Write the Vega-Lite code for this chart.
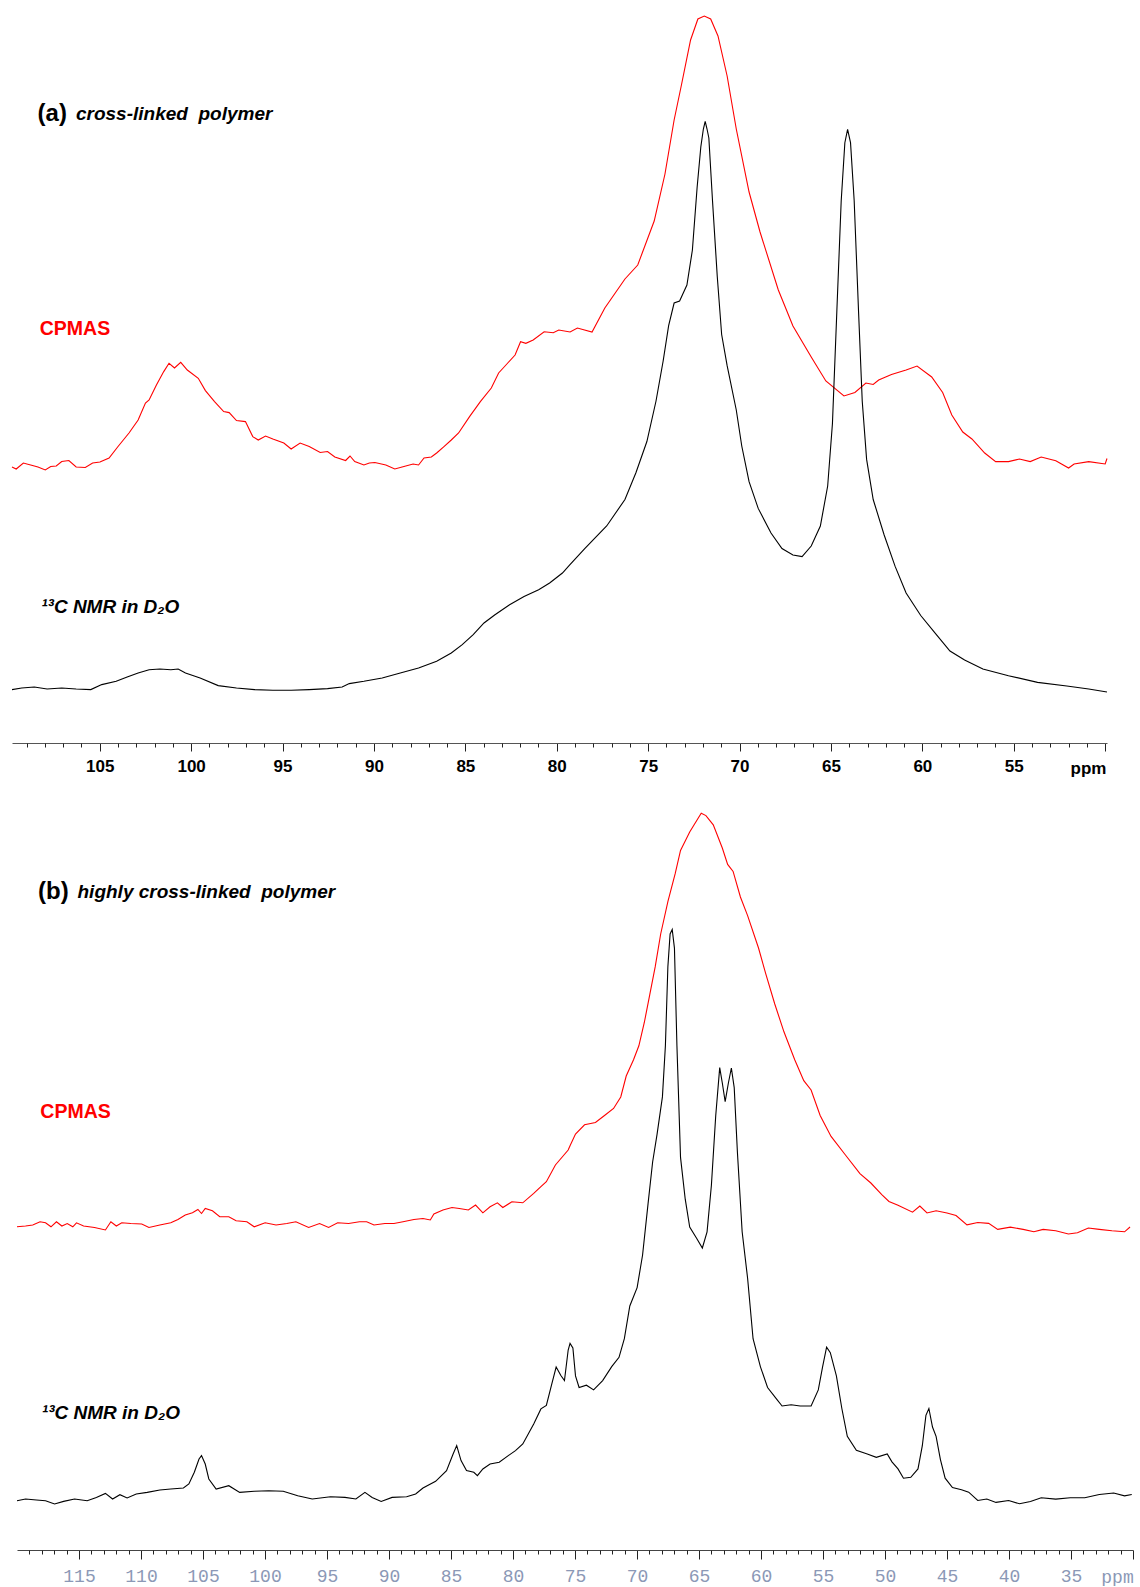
{
 "$schema": "https://vega.github.io/schema/vega-lite/v6.json",
 "background": "white",
 "padding": {"left": 9, "top": 0, "right": 0, "bottom": 0},
 "config": {"view": {"stroke": null}, "axis": {"grid": false}},
 "bounds": "flush",
 "spacing": 47,
 "datasets": {
  "labels": [
   {"panel":"a","role":"tag","ppm":108.4,"i":628.6,"t":"(a)"},
   {"panel":"a","role":"title","ppm":106.3,"i":628.6,"t":"cross-linked\u00a0 polymer"},
   {"panel":"a","role":"cpmas","ppm":108.28,"i":414,"t":"CPMAS"},
   {"panel":"a","role":"nmr","ppm":108.2,"i":136,"t":"¹³C NMR in D₂O"},
   {"panel":"b","role":"tag","ppm":118.3,"i":658.4,"t":"(b)"},
   {"panel":"b","role":"title","ppm":115.12,"i":658.4,"t":"highly cross-linked\u00a0 polymer"},
   {"panel":"b","role":"cpmas","ppm":118.12,"i":437.7,"t":"CPMAS"},
   {"panel":"b","role":"nmr","ppm":118.0,"i":137,"t":"¹³C NMR in D₂O"}
  ],
  "top": [
   {"s":"CPMAS","ppm":109.8,"i":276},{"s":"CPMAS","ppm":109.57,"i":274},{"s":"CPMAS","ppm":109.18,"i":280},{"s":"CPMAS","ppm":108.78,"i":278},{"s":"CPMAS","ppm":108.38,"i":276},{"s":"CPMAS","ppm":107.98,"i":273},{"s":"CPMAS","ppm":107.68,"i":276.5},{"s":"CPMAS","ppm":107.38,"i":277},{"s":"CPMAS","ppm":107.08,"i":281.5},{"s":"CPMAS","ppm":106.69,"i":282.5},{"s":"CPMAS","ppm":106.29,"i":276},{"s":"CPMAS","ppm":105.79,"i":275.5},{"s":"CPMAS","ppm":105.39,"i":280},{"s":"CPMAS","ppm":104.99,"i":281},{"s":"CPMAS","ppm":104.49,"i":285},{"s":"CPMAS","ppm":104.0,"i":296.5},{"s":"CPMAS","ppm":103.4,"i":310},{"s":"CPMAS","ppm":102.9,"i":323},{"s":"CPMAS","ppm":102.5,"i":340},{"s":"CPMAS","ppm":102.3,"i":343},{"s":"CPMAS","ppm":101.9,"i":358},{"s":"CPMAS","ppm":101.5,"i":371.4},{"s":"CPMAS","ppm":101.21,"i":379.7},{"s":"CPMAS","ppm":100.91,"i":375},{"s":"CPMAS","ppm":100.57,"i":380.7},{"s":"CPMAS","ppm":100.21,"i":373},{"s":"CPMAS","ppm":99.61,"i":364.7},{"s":"CPMAS","ppm":99.22,"i":352.4},{"s":"CPMAS","ppm":98.72,"i":341.4},{"s":"CPMAS","ppm":98.22,"i":331.4},{"s":"CPMAS","ppm":97.92,"i":330.4},{"s":"CPMAS","ppm":97.52,"i":322.4},{"s":"CPMAS","ppm":97.03,"i":321.4},{"s":"CPMAS","ppm":96.63,"i":306.4},{"s":"CPMAS","ppm":96.33,"i":303},{"s":"CPMAS","ppm":95.93,"i":307},{"s":"CPMAS","ppm":95.53,"i":304},{"s":"CPMAS","ppm":94.93,"i":300},{"s":"CPMAS","ppm":94.53,"i":294},{"s":"CPMAS","ppm":94.04,"i":300},{"s":"CPMAS","ppm":93.54,"i":296.4},{"s":"CPMAS","ppm":92.94,"i":290.5},{"s":"CPMAS","ppm":92.54,"i":291.5},{"s":"CPMAS","ppm":92.14,"i":286},{"s":"CPMAS","ppm":91.55,"i":282.5},{"s":"CPMAS","ppm":91.31,"i":287},{"s":"CPMAS","ppm":91.05,"i":281.5},{"s":"CPMAS","ppm":90.55,"i":278},{"s":"CPMAS","ppm":90.25,"i":280},{"s":"CPMAS","ppm":89.95,"i":280.5},{"s":"CPMAS","ppm":89.35,"i":278},{"s":"CPMAS","ppm":88.86,"i":274},{"s":"CPMAS","ppm":88.36,"i":276.5},{"s":"CPMAS","ppm":87.86,"i":279},{"s":"CPMAS","ppm":87.56,"i":278},{"s":"CPMAS","ppm":87.26,"i":285},{"s":"CPMAS","ppm":86.86,"i":286},{"s":"CPMAS","ppm":86.57,"i":290},{"s":"CPMAS","ppm":86.17,"i":296.4},{"s":"CPMAS","ppm":85.77,"i":303},{"s":"CPMAS","ppm":85.37,"i":310},{"s":"CPMAS","ppm":84.77,"i":326.4},{"s":"CPMAS","ppm":84.18,"i":341.4},{"s":"CPMAS","ppm":83.58,"i":355},{"s":"CPMAS","ppm":83.18,"i":370},{"s":"CPMAS","ppm":82.78,"i":378},{"s":"CPMAS","ppm":82.28,"i":388},{"s":"CPMAS","ppm":81.98,"i":401.3},{"s":"CPMAS","ppm":81.69,"i":399.7},{"s":"CPMAS","ppm":81.29,"i":403},{"s":"CPMAS","ppm":80.69,"i":411.3},{"s":"CPMAS","ppm":80.19,"i":410.3},{"s":"CPMAS","ppm":79.89,"i":413},{"s":"CPMAS","ppm":79.27,"i":411},{"s":"CPMAS","ppm":78.87,"i":415},{"s":"CPMAS","ppm":78.07,"i":411},{"s":"CPMAS","ppm":77.37,"i":435},{"s":"CPMAS","ppm":76.27,"i":464},{"s":"CPMAS","ppm":75.57,"i":478},{"s":"CPMAS","ppm":74.67,"i":522},{"s":"CPMAS","ppm":74.08,"i":569},{"s":"CPMAS","ppm":73.58,"i":623},{"s":"CPMAS","ppm":73.18,"i":658},{"s":"CPMAS","ppm":72.68,"i":703},{"s":"CPMAS","ppm":72.28,"i":724},{"s":"CPMAS","ppm":71.93,"i":727},{"s":"CPMAS","ppm":71.58,"i":724},{"s":"CPMAS","ppm":71.18,"i":707},{"s":"CPMAS","ppm":70.68,"i":667},{"s":"CPMAS","ppm":70.18,"i":614},{"s":"CPMAS","ppm":69.48,"i":551},{"s":"CPMAS","ppm":68.88,"i":511},{"s":"CPMAS","ppm":67.88,"i":453},{"s":"CPMAS","ppm":67.08,"i":417},{"s":"CPMAS","ppm":66.08,"i":386},{"s":"CPMAS","ppm":65.28,"i":362},{"s":"CPMAS","ppm":64.29,"i":347},{"s":"CPMAS","ppm":63.69,"i":350.5},{"s":"CPMAS","ppm":63.09,"i":360},{"s":"CPMAS","ppm":62.69,"i":358.5},{"s":"CPMAS","ppm":62.39,"i":363},{"s":"CPMAS","ppm":61.69,"i":368.4},{"s":"CPMAS","ppm":60.89,"i":373},{"s":"CPMAS","ppm":60.29,"i":377},{"s":"CPMAS","ppm":59.49,"i":366},{"s":"CPMAS","ppm":58.89,"i":350.5},{"s":"CPMAS","ppm":58.39,"i":328},{"s":"CPMAS","ppm":57.79,"i":311},{"s":"CPMAS","ppm":57.29,"i":304},{"s":"CPMAS","ppm":56.59,"i":290},{"s":"CPMAS","ppm":55.99,"i":281.4},{"s":"CPMAS","ppm":55.29,"i":281.4},{"s":"CPMAS","ppm":54.69,"i":284},{"s":"CPMAS","ppm":54.1,"i":281.4},{"s":"CPMAS","ppm":53.5,"i":286},{"s":"CPMAS","ppm":52.7,"i":282.3},{"s":"CPMAS","ppm":52.0,"i":275},{"s":"CPMAS","ppm":51.7,"i":279},{"s":"CPMAS","ppm":50.9,"i":281.4},{"s":"CPMAS","ppm":50.0,"i":279},{"s":"CPMAS","ppm":49.9,"i":284.5},
   {"s":"NMR","ppm":109.8,"i":53.4},{"s":"NMR","ppm":109.27,"i":55},{"s":"NMR","ppm":108.58,"i":56},{"s":"NMR","ppm":107.88,"i":54},{"s":"NMR","ppm":107.08,"i":55},{"s":"NMR","ppm":106.29,"i":54},{"s":"NMR","ppm":105.49,"i":53.4},{"s":"NMR","ppm":104.89,"i":58.4},{"s":"NMR","ppm":104.1,"i":61.7},{"s":"NMR","ppm":103.5,"i":66},{"s":"NMR","ppm":102.9,"i":70},{"s":"NMR","ppm":102.3,"i":73.3},{"s":"NMR","ppm":101.71,"i":74},{"s":"NMR","ppm":101.11,"i":73.3},{"s":"NMR","ppm":100.71,"i":74},{"s":"NMR","ppm":100.31,"i":70},{"s":"NMR","ppm":99.51,"i":65},{"s":"NMR","ppm":98.52,"i":57.4},{"s":"NMR","ppm":97.52,"i":55},{"s":"NMR","ppm":96.53,"i":53.4},{"s":"NMR","ppm":95.53,"i":52.7},{"s":"NMR","ppm":94.53,"i":52.7},{"s":"NMR","ppm":93.54,"i":53.4},{"s":"NMR","ppm":92.54,"i":54.4},{"s":"NMR","ppm":91.74,"i":56},{"s":"NMR","ppm":91.35,"i":59.4},{"s":"NMR","ppm":90.55,"i":61.7},{"s":"NMR","ppm":89.55,"i":65},{"s":"NMR","ppm":88.56,"i":70},{"s":"NMR","ppm":87.56,"i":75},{"s":"NMR","ppm":86.57,"i":81.7},{"s":"NMR","ppm":85.77,"i":90},{"s":"NMR","ppm":85.17,"i":98.3},{"s":"NMR","ppm":84.57,"i":108.3},{"s":"NMR","ppm":83.98,"i":120},{"s":"NMR","ppm":83.38,"i":128.3},{"s":"NMR","ppm":82.58,"i":138.3},{"s":"NMR","ppm":81.79,"i":146.6},{"s":"NMR","ppm":80.99,"i":153.3},{"s":"NMR","ppm":80.39,"i":160},{"s":"NMR","ppm":79.69,"i":170},{"s":"NMR","ppm":79.29,"i":178.2},{"s":"NMR","ppm":78.47,"i":194.4},{"s":"NMR","ppm":77.27,"i":217},{"s":"NMR","ppm":76.27,"i":243.5},{"s":"NMR","ppm":75.67,"i":270.2},{"s":"NMR","ppm":75.07,"i":301.5},{"s":"NMR","ppm":74.57,"i":342},{"s":"NMR","ppm":74.18,"i":382},{"s":"NMR","ppm":73.88,"i":417.4},{"s":"NMR","ppm":73.58,"i":440},{"s":"NMR","ppm":73.28,"i":442},{"s":"NMR","ppm":72.88,"i":458},{"s":"NMR","ppm":72.58,"i":493},{"s":"NMR","ppm":72.32,"i":556},{"s":"NMR","ppm":72.12,"i":596},{"s":"NMR","ppm":71.98,"i":614},{"s":"NMR","ppm":71.88,"i":621.7},{"s":"NMR","ppm":71.78,"i":614},{"s":"NMR","ppm":71.68,"i":605},{"s":"NMR","ppm":71.48,"i":542.3},{"s":"NMR","ppm":71.22,"i":466.5},{"s":"NMR","ppm":70.98,"i":408.5},{"s":"NMR","ppm":70.68,"i":377.3},{"s":"NMR","ppm":70.18,"i":333},{"s":"NMR","ppm":69.88,"i":297},{"s":"NMR","ppm":69.48,"i":261.3},{"s":"NMR","ppm":68.98,"i":234.6},{"s":"NMR","ppm":68.28,"i":210},{"s":"NMR","ppm":67.68,"i":194.4},{"s":"NMR","ppm":67.08,"i":188},{"s":"NMR","ppm":66.58,"i":186.4},{"s":"NMR","ppm":66.08,"i":197},{"s":"NMR","ppm":65.58,"i":217},{"s":"NMR","ppm":65.18,"i":257},{"s":"NMR","ppm":64.92,"i":319.3},{"s":"NMR","ppm":64.68,"i":431},{"s":"NMR","ppm":64.44,"i":542.3},{"s":"NMR","ppm":64.24,"i":600.3},{"s":"NMR","ppm":64.09,"i":613.7},{"s":"NMR","ppm":63.93,"i":600.3},{"s":"NMR","ppm":63.73,"i":542.3},{"s":"NMR","ppm":63.49,"i":431},{"s":"NMR","ppm":63.29,"i":342},{"s":"NMR","ppm":63.05,"i":283.6},{"s":"NMR","ppm":62.69,"i":243.5},{"s":"NMR","ppm":62.09,"i":208},{"s":"NMR","ppm":61.49,"i":176.6},{"s":"NMR","ppm":60.89,"i":150},{"s":"NMR","ppm":60.09,"i":127.5},{"s":"NMR","ppm":59.29,"i":109.7},{"s":"NMR","ppm":58.49,"i":92},{"s":"NMR","ppm":57.69,"i":83},{"s":"NMR","ppm":56.69,"i":74},{"s":"NMR","ppm":55.29,"i":67.3},{"s":"NMR","ppm":53.7,"i":60.6},{"s":"NMR","ppm":52.1,"i":57},{"s":"NMR","ppm":50.9,"i":54},{"s":"NMR","ppm":49.9,"i":51}
  ],
  "bottom": [
   {"s":"CPMAS","ppm":120.0,"i":323.2},{"s":"CPMAS","ppm":119.31,"i":324},{"s":"CPMAS","ppm":118.73,"i":325},{"s":"CPMAS","ppm":118.14,"i":328.2},{"s":"CPMAS","ppm":117.7,"i":327.2},{"s":"CPMAS","ppm":117.26,"i":323.2},{"s":"CPMAS","ppm":116.82,"i":328.2},{"s":"CPMAS","ppm":116.38,"i":324},{"s":"CPMAS","ppm":115.95,"i":326.5},{"s":"CPMAS","ppm":115.5,"i":323.2},{"s":"CPMAS","ppm":115.2,"i":327.2},{"s":"CPMAS","ppm":114.63,"i":324},{"s":"CPMAS","ppm":113.75,"i":322.5},{"s":"CPMAS","ppm":112.87,"i":320},{"s":"CPMAS","ppm":112.43,"i":328.2},{"s":"CPMAS","ppm":111.99,"i":324},{"s":"CPMAS","ppm":111.55,"i":327.2},{"s":"CPMAS","ppm":110.82,"i":326.5},{"s":"CPMAS","ppm":109.94,"i":326},{"s":"CPMAS","ppm":109.36,"i":322.5},{"s":"CPMAS","ppm":108.48,"i":325},{"s":"CPMAS","ppm":107.6,"i":327.2},{"s":"CPMAS","ppm":107.02,"i":330.5},{"s":"CPMAS","ppm":106.43,"i":335},{"s":"CPMAS","ppm":105.85,"i":337.2},{"s":"CPMAS","ppm":105.41,"i":340.5},{"s":"CPMAS","ppm":105.12,"i":336.5},{"s":"CPMAS","ppm":104.82,"i":341.5},{"s":"CPMAS","ppm":104.24,"i":339.2},{"s":"CPMAS","ppm":103.65,"i":333.2},{"s":"CPMAS","ppm":102.92,"i":333.2},{"s":"CPMAS","ppm":102.33,"i":329.2},{"s":"CPMAS","ppm":101.46,"i":328.2},{"s":"CPMAS","ppm":100.87,"i":323.2},{"s":"CPMAS","ppm":99.99,"i":327.2},{"s":"CPMAS","ppm":99.11,"i":325},{"s":"CPMAS","ppm":98.24,"i":326.5},{"s":"CPMAS","ppm":97.51,"i":328.2},{"s":"CPMAS","ppm":96.48,"i":322.5},{"s":"CPMAS","ppm":95.6,"i":326.5},{"s":"CPMAS","ppm":94.87,"i":322.5},{"s":"CPMAS","ppm":94.14,"i":327.2},{"s":"CPMAS","ppm":93.26,"i":326.5},{"s":"CPMAS","ppm":92.38,"i":328.2},{"s":"CPMAS","ppm":91.8,"i":328.2},{"s":"CPMAS","ppm":91.21,"i":325},{"s":"CPMAS","ppm":90.33,"i":326.5},{"s":"CPMAS","ppm":89.6,"i":326.5},{"s":"CPMAS","ppm":88.87,"i":328.2},{"s":"CPMAS","ppm":87.99,"i":330.5},{"s":"CPMAS","ppm":87.26,"i":331.5},{"s":"CPMAS","ppm":86.67,"i":330},{"s":"CPMAS","ppm":86.38,"i":336},{"s":"CPMAS","ppm":85.65,"i":340},{"s":"CPMAS","ppm":84.92,"i":342.5},{"s":"CPMAS","ppm":84.33,"i":341.5},{"s":"CPMAS","ppm":83.6,"i":340},{"s":"CPMAS","ppm":83.02,"i":345},{"s":"CPMAS","ppm":82.43,"i":337.2},{"s":"CPMAS","ppm":81.85,"i":343.2},{"s":"CPMAS","ppm":81.26,"i":347.2},{"s":"CPMAS","ppm":80.82,"i":342.5},{"s":"CPMAS","ppm":80.09,"i":348.2},{"s":"CPMAS","ppm":79.21,"i":347.2},{"s":"CPMAS","ppm":78.33,"i":356.6},{"s":"CPMAS","ppm":77.75,"i":363.3},{"s":"CPMAS","ppm":77.31,"i":368.3},{"s":"CPMAS","ppm":76.58,"i":385},{"s":"CPMAS","ppm":75.55,"i":400},{"s":"CPMAS","ppm":75.4,"i":404.3},{"s":"CPMAS","ppm":74.96,"i":416},{"s":"CPMAS","ppm":74.23,"i":425.2},{"s":"CPMAS","ppm":73.35,"i":427.5},{"s":"CPMAS","ppm":72.62,"i":434.5},{"s":"CPMAS","ppm":71.89,"i":441.5},{"s":"CPMAS","ppm":71.31,"i":453},{"s":"CPMAS","ppm":70.87,"i":474},{"s":"CPMAS","ppm":70.28,"i":490.3},{"s":"CPMAS","ppm":69.85,"i":504.2},{"s":"CPMAS","ppm":69.41,"i":527.5},{"s":"CPMAS","ppm":68.97,"i":555.4},{"s":"CPMAS","ppm":68.53,"i":583.3},{"s":"CPMAS","ppm":68.09,"i":616},{"s":"CPMAS","ppm":67.51,"i":648.4},{"s":"CPMAS","ppm":66.92,"i":676.3},{"s":"CPMAS","ppm":66.49,"i":699.5},{"s":"CPMAS","ppm":65.75,"i":718.1},{"s":"CPMAS","ppm":65.17,"i":729.8},{"s":"CPMAS","ppm":64.82,"i":736.7},{"s":"CPMAS","ppm":64.44,"i":734.4},{"s":"CPMAS","ppm":63.85,"i":725.1},{"s":"CPMAS","ppm":63.12,"i":702},{"s":"CPMAS","ppm":62.69,"i":685.6},{"s":"CPMAS","ppm":62.25,"i":678.6},{"s":"CPMAS","ppm":61.66,"i":653},{"s":"CPMAS","ppm":61.08,"i":634.4},{"s":"CPMAS","ppm":60.2,"i":602},{"s":"CPMAS","ppm":59.62,"i":576.3},{"s":"CPMAS","ppm":58.89,"i":546},{"s":"CPMAS","ppm":58.15,"i":518.2},{"s":"CPMAS","ppm":57.28,"i":490.3},{"s":"CPMAS","ppm":56.55,"i":469.4},{"s":"CPMAS","ppm":55.96,"i":460},{"s":"CPMAS","ppm":55.23,"i":434.5},{"s":"CPMAS","ppm":54.35,"i":413.6},{"s":"CPMAS","ppm":53.19,"i":395},{"s":"CPMAS","ppm":52.02,"i":376.4},{"s":"CPMAS","ppm":51.14,"i":367},{"s":"CPMAS","ppm":50.26,"i":355.4},{"s":"CPMAS","ppm":49.68,"i":348.5},{"s":"CPMAS","ppm":48.95,"i":344.8},{"s":"CPMAS","ppm":47.78,"i":337.8},{"s":"CPMAS","ppm":47.19,"i":344},{"s":"CPMAS","ppm":46.61,"i":337},{"s":"CPMAS","ppm":45.88,"i":339.2},{"s":"CPMAS","ppm":45.0,"i":337},{"s":"CPMAS","ppm":44.27,"i":334.5},{"s":"CPMAS","ppm":43.39,"i":325.2},{"s":"CPMAS","ppm":42.52,"i":327.5},{"s":"CPMAS","ppm":41.64,"i":326.6},{"s":"CPMAS","ppm":40.91,"i":320.6},{"s":"CPMAS","ppm":39.89,"i":322.9},{"s":"CPMAS","ppm":38.86,"i":320.6},{"s":"CPMAS","ppm":37.99,"i":318.2},{"s":"CPMAS","ppm":37.25,"i":320.6},{"s":"CPMAS","ppm":36.23,"i":319.2},{"s":"CPMAS","ppm":35.21,"i":316},{"s":"CPMAS","ppm":34.48,"i":317.3},{"s":"CPMAS","ppm":33.6,"i":322},{"s":"CPMAS","ppm":32.72,"i":320.6},{"s":"CPMAS","ppm":31.7,"i":319.2},{"s":"CPMAS","ppm":30.68,"i":318.2},{"s":"CPMAS","ppm":30.24,"i":323},
   {"s":"NMR","ppm":120.0,"i":49.3},{"s":"NMR","ppm":119.31,"i":51},{"s":"NMR","ppm":118.43,"i":50},{"s":"NMR","ppm":117.7,"i":49.3},{"s":"NMR","ppm":116.97,"i":46},{"s":"NMR","ppm":116.24,"i":48.6},{"s":"NMR","ppm":115.36,"i":51},{"s":"NMR","ppm":114.34,"i":49.3},{"s":"NMR","ppm":113.6,"i":52.6},{"s":"NMR","ppm":112.87,"i":56.6},{"s":"NMR","ppm":112.29,"i":51},{"s":"NMR","ppm":111.7,"i":55.3},{"s":"NMR","ppm":111.12,"i":52},{"s":"NMR","ppm":110.38,"i":56},{"s":"NMR","ppm":109.5,"i":57.6},{"s":"NMR","ppm":108.48,"i":60},{"s":"NMR","ppm":107.6,"i":61},{"s":"NMR","ppm":106.58,"i":62},{"s":"NMR","ppm":106.14,"i":66},{"s":"NMR","ppm":105.7,"i":77.7},{"s":"NMR","ppm":105.32,"i":91},{"s":"NMR","ppm":105.12,"i":94.4},{"s":"NMR","ppm":104.82,"i":86},{"s":"NMR","ppm":104.53,"i":71},{"s":"NMR","ppm":103.94,"i":61},{"s":"NMR","ppm":102.92,"i":64.3},{"s":"NMR","ppm":102.04,"i":57.6},{"s":"NMR","ppm":100.87,"i":58.7},{"s":"NMR","ppm":99.7,"i":59.3},{"s":"NMR","ppm":98.53,"i":58.7},{"s":"NMR","ppm":97.36,"i":54.3},{"s":"NMR","ppm":96.19,"i":51},{"s":"NMR","ppm":94.72,"i":53.3},{"s":"NMR","ppm":93.55,"i":52.6},{"s":"NMR","ppm":92.67,"i":51},{"s":"NMR","ppm":91.94,"i":57.6},{"s":"NMR","ppm":91.36,"i":52.6},{"s":"NMR","ppm":90.63,"i":48.6},{"s":"NMR","ppm":89.75,"i":52.6},{"s":"NMR","ppm":88.58,"i":53.3},{"s":"NMR","ppm":87.85,"i":56},{"s":"NMR","ppm":87.26,"i":62},{"s":"NMR","ppm":86.24,"i":68.7},{"s":"NMR","ppm":85.36,"i":79.4},{"s":"NMR","ppm":84.83,"i":96},{"s":"NMR","ppm":84.54,"i":104.4},{"s":"NMR","ppm":84.19,"i":89.4},{"s":"NMR","ppm":83.75,"i":79.4},{"s":"NMR","ppm":83.16,"i":77.7},{"s":"NMR","ppm":82.87,"i":74.4},{"s":"NMR","ppm":82.43,"i":81},{"s":"NMR","ppm":81.85,"i":86},{"s":"NMR","ppm":81.11,"i":87.7},{"s":"NMR","ppm":80.38,"i":94.4},{"s":"NMR","ppm":79.8,"i":99.4},{"s":"NMR","ppm":79.21,"i":106},{"s":"NMR","ppm":78.33,"i":126},{"s":"NMR","ppm":77.75,"i":141.1},{"s":"NMR","ppm":77.31,"i":144.5},{"s":"NMR","ppm":76.87,"i":166.2},{"s":"NMR","ppm":76.52,"i":183},{"s":"NMR","ppm":76.14,"i":174.5},{"s":"NMR","ppm":75.85,"i":169.5},{"s":"NMR","ppm":75.55,"i":200},{"s":"NMR","ppm":75.4,"i":206.6},{"s":"NMR","ppm":75.17,"i":202},{"s":"NMR","ppm":74.96,"i":174.1},{"s":"NMR","ppm":74.67,"i":162.5},{"s":"NMR","ppm":74.08,"i":164.8},{"s":"NMR","ppm":73.5,"i":160.1},{"s":"NMR","ppm":72.77,"i":169.4},{"s":"NMR","ppm":72.04,"i":183.4},{"s":"NMR","ppm":71.45,"i":192.7},{"s":"NMR","ppm":71.02,"i":211.3},{"s":"NMR","ppm":70.58,"i":244},{"s":"NMR","ppm":69.99,"i":262.4},{"s":"NMR","ppm":69.55,"i":295},{"s":"NMR","ppm":69.11,"i":346.1},{"s":"NMR","ppm":68.74,"i":388},{"s":"NMR","ppm":68.38,"i":415.9},{"s":"NMR","ppm":67.95,"i":453.1},{"s":"NMR","ppm":67.71,"i":504.2},{"s":"NMR","ppm":67.51,"i":583.3},{"s":"NMR","ppm":67.33,"i":616},{"s":"NMR","ppm":67.16,"i":620.5},{"s":"NMR","ppm":66.98,"i":601.9},{"s":"NMR","ppm":66.78,"i":504.2},{"s":"NMR","ppm":66.49,"i":392.6},{"s":"NMR","ppm":66.11,"i":350.8},{"s":"NMR","ppm":65.75,"i":322.9},{"s":"NMR","ppm":65.17,"i":311.3},{"s":"NMR","ppm":64.73,"i":302},{"s":"NMR","ppm":64.35,"i":318.2},{"s":"NMR","ppm":64.0,"i":364.7},{"s":"NMR","ppm":63.65,"i":434.5},{"s":"NMR","ppm":63.33,"i":482.4},{"s":"NMR","ppm":63.12,"i":467},{"s":"NMR","ppm":62.89,"i":448.4},{"s":"NMR","ppm":62.63,"i":467},{"s":"NMR","ppm":62.39,"i":482},{"s":"NMR","ppm":62.16,"i":462.4},{"s":"NMR","ppm":61.9,"i":397.3},{"s":"NMR","ppm":61.52,"i":318.2},{"s":"NMR","ppm":61.08,"i":271.7},{"s":"NMR","ppm":60.64,"i":211.3},{"s":"NMR","ppm":60.05,"i":183.4},{"s":"NMR","ppm":59.47,"i":162.5},{"s":"NMR","ppm":58.74,"i":150.8},{"s":"NMR","ppm":58.3,"i":144},{"s":"NMR","ppm":57.57,"i":145.3},{"s":"NMR","ppm":56.84,"i":144},{"s":"NMR","ppm":55.96,"i":144},{"s":"NMR","ppm":55.38,"i":160.1},{"s":"NMR","ppm":55.03,"i":183.4},{"s":"NMR","ppm":54.71,"i":202.9},{"s":"NMR","ppm":54.41,"i":197.3},{"s":"NMR","ppm":53.92,"i":174.1},{"s":"NMR","ppm":53.48,"i":141.5},{"s":"NMR","ppm":53.04,"i":113.6},{"s":"NMR","ppm":52.31,"i":99.7},{"s":"NMR","ppm":51.43,"i":96},{"s":"NMR","ppm":50.7,"i":92.7},{"s":"NMR","ppm":49.82,"i":96},{"s":"NMR","ppm":49.44,"i":88.1},{"s":"NMR","ppm":48.95,"i":81.1},{"s":"NMR","ppm":48.51,"i":71.8},{"s":"NMR","ppm":47.92,"i":72.7},{"s":"NMR","ppm":47.34,"i":81.1},{"s":"NMR","ppm":46.99,"i":104.3},{"s":"NMR","ppm":46.7,"i":134.6},{"s":"NMR","ppm":46.46,"i":141.5},{"s":"NMR","ppm":46.17,"i":123},{"s":"NMR","ppm":45.88,"i":113.6},{"s":"NMR","ppm":45.53,"i":90.4},{"s":"NMR","ppm":45.15,"i":71.8},{"s":"NMR","ppm":44.56,"i":62.5},{"s":"NMR","ppm":43.83,"i":60.2},{"s":"NMR","ppm":43.25,"i":57.8},{"s":"NMR","ppm":42.52,"i":49.5},{"s":"NMR","ppm":41.79,"i":51},{"s":"NMR","ppm":41.05,"i":47.6},{"s":"NMR","ppm":40.03,"i":49.5},{"s":"NMR","ppm":39.15,"i":46.2},{"s":"NMR","ppm":38.27,"i":48.5},{"s":"NMR","ppm":37.4,"i":52.3},{"s":"NMR","ppm":36.23,"i":50.9},{"s":"NMR","ppm":35.06,"i":52.3},{"s":"NMR","ppm":33.89,"i":52.3},{"s":"NMR","ppm":32.72,"i":55.5},{"s":"NMR","ppm":31.56,"i":57},{"s":"NMR","ppm":30.68,"i":54.1},{"s":"NMR","ppm":30.1,"i":55.5}
  ]
 },
 "vconcat": [
  {
   "width": 1120, "height": 743,
   "resolve": {"axis": {"x": "independent"}},
   "layer": [
    {
     "data": {"name": "top"},
     "mark": {"type": "line", "strokeWidth": 1.1},
     "encoding": {
      "x": {"field": "ppm", "type": "quantitative",
       "scale": {"domain": [109.8, 49.9], "range": [0, 1095], "zero": false, "nice": false},
       "axis": {
        "orient": "bottom",
        "values": [50,55,60,65,70,75,80,85,90,95,100,105],
        "labelExpr": "datum.value >= 55 ? datum.label : ''",
        "tickSize": 8,
        "labelFont": "Liberation Sans", "labelFontWeight": "bold", "labelFontSize": 17, "labelColor": "#000000",
        "labelBaseline": "middle", "labelPadding": 15, "labelFlush": false, "labelOverlap": false,
        "domainColor": "#555555", "domainWidth": 1.2, "tickColor": "#222222", "tickWidth": 1,
        "title": "ppm", "titleX": 1076, "titleY": 30, "titleAlign": "center", "titleBaseline": "alphabetic",
        "titleFont": "Liberation Sans", "titleFontWeight": "bold", "titleFontSize": 17, "titleColor": "#000000"
       }},
      "y": {"field": "i", "type": "quantitative", "scale": {"domain": [0, 743], "zero": false, "nice": false}, "axis": null},
      "color": {"field": "s", "type": "nominal", "scale": {"domain": ["CPMAS", "NMR"], "range": ["#ff0000", "#000000"]}, "legend": null}
     }
    },
    {
     "data": {"name": "labels"},
     "transform": [{"filter": "datum.panel === 'a' && datum.role === 'tag'"}],
     "mark": {"type": "text", "align": "left", "baseline": "middle", "font": "Liberation Sans", "fontWeight": "bold", "fontSize": 24, "color": "#000000"},
     "encoding": {
      "x": {"field": "ppm", "type": "quantitative",
       "axis": {"orient": "bottom", "values": [51,52,53,54,56,57,58,59,61,62,63,64,66,67,68,69,71,72,73,74,76,77,78,79,81,82,83,84,86,87,88,89,91,92,93,94,96,97,98,99,101,102,103,104,106,107,108,109],
        "labels": false, "domain": false, "tickSize": 4, "tickColor": "#222222", "tickWidth": 1, "title": null}},
      "y": {"field": "i", "type": "quantitative", "axis": null}, "text": {"field": "t"}}
    },
    {
     "data": {"name": "labels"},
     "transform": [{"filter": "datum.panel === 'a' && (datum.role === 'title' || datum.role === 'nmr')"}],
     "mark": {"type": "text", "align": "left", "baseline": "middle", "font": "Liberation Sans", "fontWeight": "bold", "fontStyle": "italic", "fontSize": 19, "color": "#000000"},
     "encoding": {"x": {"field": "ppm", "type": "quantitative", "axis": null}, "y": {"field": "i", "type": "quantitative", "axis": null}, "text": {"field": "t"}}
    },
    {
     "data": {"name": "labels"},
     "transform": [{"filter": "datum.panel === 'a' && datum.role === 'cpmas'"}],
     "mark": {"type": "text", "align": "left", "baseline": "middle", "font": "Liberation Sans", "fontWeight": "bold", "fontSize": 19.5, "color": "#ff0000"},
     "encoding": {"x": {"field": "ppm", "type": "quantitative", "axis": null}, "y": {"field": "i", "type": "quantitative", "axis": null}, "text": {"field": "t"}}
    }
   ]
  },
  {
   "width": 1122, "height": 760,
   "resolve": {"axis": {"x": "independent"}},
   "layer": [
    {
     "data": {"name": "bottom"},
     "mark": {"type": "line", "strokeWidth": 1.1},
     "encoding": {
      "x": {"field": "ppm", "type": "quantitative",
       "scale": {"domain": [120, 30], "range": [5, 1121], "zero": false, "nice": false},
       "axis": {
        "orient": "bottom",
        "values": [30,35,40,45,50,55,60,65,70,75,80,85,90,95,100,105,110,115],
        "labelExpr": "datum.value >= 35 ? datum.label : ''",
        "tickSize": 9,
        "labelFont": "Liberation Mono", "labelFontWeight": "normal", "labelFontSize": 18, "labelColor": "#8b98b6",
        "labelBaseline": "middle", "labelPadding": 17, "labelFlush": false, "labelOverlap": false,
        "domainColor": "#444444", "domainWidth": 1.2, "tickColor": "#222222", "tickWidth": 1,
        "title": "ppm", "titleX": 1105, "titleY": 32, "titleAlign": "center", "titleBaseline": "alphabetic",
        "titleFont": "Liberation Mono", "titleFontWeight": "normal", "titleFontSize": 18, "titleColor": "#8b98b6"
       }},
      "y": {"field": "i", "type": "quantitative", "scale": {"domain": [0, 760], "zero": false, "nice": false}, "axis": null},
      "color": {"field": "s", "type": "nominal", "scale": {"domain": ["CPMAS", "NMR"], "range": ["#ff0000", "#000000"]}, "legend": null}
     }
    },
    {
     "data": {"name": "labels"},
     "transform": [{"filter": "datum.panel === 'b' && datum.role === 'tag'"}],
     "mark": {"type": "text", "align": "left", "baseline": "middle", "font": "Liberation Sans", "fontWeight": "bold", "fontSize": 24, "color": "#000000"},
     "encoding": {
      "x": {"field": "ppm", "type": "quantitative",
       "axis": {"orient": "bottom", "values": [31,32,33,34,36,37,38,39,41,42,43,44,46,47,48,49,51,52,53,54,56,57,58,59,61,62,63,64,66,67,68,69,71,72,73,74,76,77,78,79,81,82,83,84,86,87,88,89,91,92,93,94,96,97,98,99,101,102,103,104,106,107,108,109,111,112,113,114,116,117,118,119],
        "labels": false, "domain": false, "tickSize": 4, "tickColor": "#222222", "tickWidth": 1, "title": null}},
      "y": {"field": "i", "type": "quantitative", "axis": null}, "text": {"field": "t"}}
    },
    {
     "data": {"name": "labels"},
     "transform": [{"filter": "datum.panel === 'b' && (datum.role === 'title' || datum.role === 'nmr')"}],
     "mark": {"type": "text", "align": "left", "baseline": "middle", "font": "Liberation Sans", "fontWeight": "bold", "fontStyle": "italic", "fontSize": 19, "color": "#000000"},
     "encoding": {"x": {"field": "ppm", "type": "quantitative", "axis": null}, "y": {"field": "i", "type": "quantitative", "axis": null}, "text": {"field": "t"}}
    },
    {
     "data": {"name": "labels"},
     "transform": [{"filter": "datum.panel === 'b' && datum.role === 'cpmas'"}],
     "mark": {"type": "text", "align": "left", "baseline": "middle", "font": "Liberation Sans", "fontWeight": "bold", "fontSize": 19.5, "color": "#ff0000"},
     "encoding": {"x": {"field": "ppm", "type": "quantitative", "axis": null}, "y": {"field": "i", "type": "quantitative", "axis": null}, "text": {"field": "t"}}
    }
   ]
  }
 ],
 "resolve": {"scale": {"x": "independent", "y": "independent", "color": "independent"}}
}
